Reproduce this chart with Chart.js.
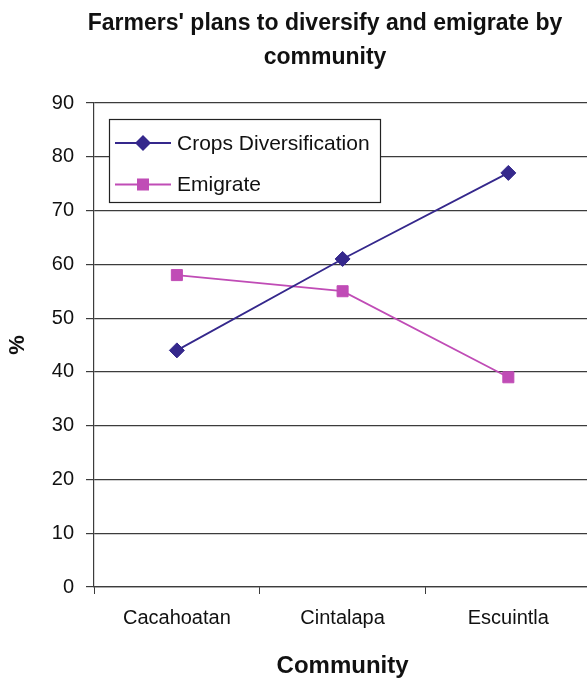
<!DOCTYPE html>
<html>
<head>
<meta charset="utf-8">
<script src="https://cdn.jsdelivr.net/npm/chart.js@4/dist/chart.umd.min.js"></script>
<style>
  html, body { margin: 0; padding: 0; background: #fff; overflow: hidden; }
  #wrap { width: 600px; height: 678px; }
</style>
</head>
<body>
<div id="wrap"><canvas id="chart" width="600" height="678"></canvas></div>
<script>
// Survey results by community (% of farmers)
const communities = ['Cacahoatan', 'Cintalapa', 'Escuintla'];
const cropsDiversification = [44, 61, 77];
const emigrate = [58, 55, 39];
const seriesNames = ['Crops Diversification', 'Emigrate'];
const titleLines = ["Farmers' plans to diversify and emigrate by", 'community'];
const yTitle = '%';
const xTitle = 'Community';

const FONT = '"Liberation Sans", Arial, Helvetica, sans-serif';
const NAVY = '#35288c';
const MAGENTA = '#c04cb6';
const GRID = '#3c3c3c';

// Two-line bold heading above the plot
const headingPlugin = {
  id: 'heading',
  afterDraw(chart) {
    const ctx = chart.ctx;
    ctx.save();
    ctx.font = 'bold 23px ' + FONT;
    ctx.fillStyle = '#111';
    ctx.textAlign = 'center';
    ctx.textBaseline = 'alphabetic';
    const baselines = [30, 64];
    titleLines.forEach((line, i) => ctx.fillText(line, 325, baselines[i]));
    ctx.restore();
  }
};

// Boxed legend drawn inside the plot area
const boxLegendPlugin = {
  id: 'boxLegend',
  afterDraw(chart) {
    const ctx = chart.ctx;
    const x = 109.5, y = 119.5, w = 271, h = 83;
    ctx.save();
    ctx.fillStyle = '#fff';
    ctx.fillRect(x, y, w, h);
    ctx.strokeStyle = '#222';
    ctx.lineWidth = 1.2;
    ctx.strokeRect(x, y, w, h);
    const rows = [143, 184.5];
    chart.data.datasets.forEach((ds, i) => {
      const ry = rows[i];
      ctx.strokeStyle = ds.borderColor;
      ctx.lineWidth = ds.borderWidth;
      ctx.beginPath();
      ctx.moveTo(115, ry);
      ctx.lineTo(171, ry);
      ctx.stroke();
      ctx.fillStyle = ds.pointBackgroundColor;
      ctx.beginPath();
      const cx = 143;
      if (ds.pointStyle === 'rectRot') {
        const r = ds.pointRadius + 0.5;
        ctx.moveTo(cx, ry - r);
        ctx.lineTo(cx + r, ry);
        ctx.lineTo(cx, ry + r);
        ctx.lineTo(cx - r, ry);
        ctx.closePath();
      } else {
        const s = ds.pointRadius * Math.SQRT1_2 + 0.5;
        ctx.rect(cx - s, ry - s, 2 * s, 2 * s);
      }
      ctx.fill();
      ctx.fillStyle = '#111';
      ctx.font = '21px ' + FONT;
      ctx.textAlign = 'left';
      ctx.textBaseline = 'middle';
      ctx.fillText(ds.label, 177, ry + 1);
    });
    ctx.restore();
  }
};

new Chart(document.getElementById('chart'), {
  type: 'line',
  data: {
    labels: communities,
    datasets: [
      {
        label: seriesNames[0],
        data: cropsDiversification,
        borderColor: NAVY,
        backgroundColor: NAVY,
        pointBackgroundColor: NAVY,
        pointBorderColor: NAVY,
        pointStyle: 'rectRot',
        pointRadius: 7.5,
        pointBorderWidth: 1,
        borderWidth: 1.8,
        tension: 0,
        fill: false
      },
      {
        label: seriesNames[1],
        data: emigrate,
        borderColor: MAGENTA,
        backgroundColor: MAGENTA,
        pointBackgroundColor: MAGENTA,
        pointBorderColor: MAGENTA,
        pointStyle: 'rect',
        pointRadius: 7.8,
        pointBorderWidth: 1,
        borderWidth: 1.8,
        tension: 0,
        fill: false
      }
    ]
  },
  options: {
    responsive: false,
    animation: false,
    devicePixelRatio: 1,
    layout: { padding: { top: 103, left: 0, right: 6, bottom: 0 } },
    plugins: {
      legend: { display: false },
      title: { display: false },
      tooltip: { enabled: false }
    },
    scales: {
      x: {
        type: 'category',
        offset: true,
        grid: {
          display: true,
          drawOnChartArea: false,
          drawTicks: true,
          tickLength: 7,
          color: GRID,
          offset: true
        },
        border: { display: true, color: GRID, width: 1.2 },
        ticks: { font: { size: 20, family: FONT }, color: '#111', padding: 12 },
        title: {
          display: true,
          text: xTitle,
          color: '#111',
          font: { size: 24, weight: 'bold', family: FONT, lineHeight: 1 },
          padding: { top: 0, bottom: 0 }
        },
        afterFit(scale) { scale.height = 91; }
      },
      y: {
        min: 0,
        max: 90,
        ticks: { stepSize: 10, font: { size: 20, family: FONT }, color: '#111', padding: 12 },
        grid: { color: GRID, tickLength: 8, lineWidth: 1.2 },
        border: { display: true, color: GRID, width: 1.2 },
        title: {
          display: true,
          text: yTitle,
          color: '#111',
          font: { size: 22, weight: 'bold', family: FONT, lineHeight: 1.2 },
          padding: { top: 5, bottom: 0 }
        },
        afterFit(scale) { scale.width = 94; }
      }
    }
  },
  plugins: [headingPlugin, boxLegendPlugin]
});
</script>
</body>
</html>
